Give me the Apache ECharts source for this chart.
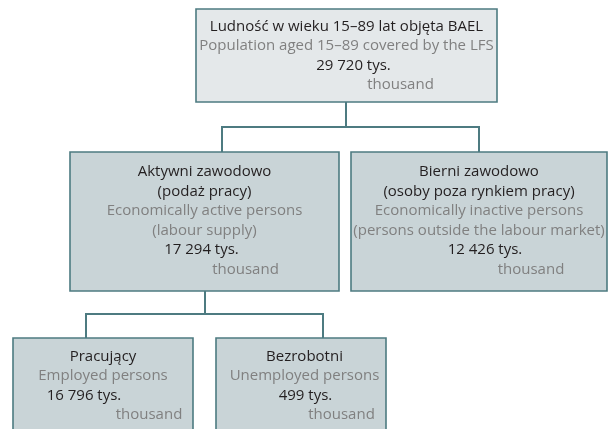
<!DOCTYPE html>
<html>
<head>
<meta charset="utf-8">
<script src="https://cdn.jsdelivr.net/npm/echarts@6/dist/echarts.min.js"></script>
<style>
  html, body { margin: 0; padding: 0; background: #fff; }
  #chart { width: 608px; height: 429px; }
</style>
</head>
<body>
<div id="chart"></div>
<script>
// node labels and values (thousand persons)
const labelsPl = [
  'Ludność w wieku 15–89 lat objęta BAEL',
  'Aktywni zawodowo\n(podaż pracy)',
  'Bierni zawodowo\n(osoby poza rynkiem pracy)',
  'Pracujący',
  'Bezrobotni'
]
const labelsEn = [
  'Population aged 15–89 covered by the LFS',
  'Economically active persons\n(labour supply)',
  'Economically inactive persons\n(persons outside the labour market)',
  'Employed persons',
  'Unemployed persons'
]
const values = [29720, 17294, 12426, 16796, 499]
const parents = [-1, 0, 0, 1, 1]
const unitPl = 'tys.'
const unitEn = 'thousand'

// layout in page pixels: box [x0, y0, x1, y1], text centre x, value/unit shifts
const boxLayout = [
  { box: [196, 9, 497, 102], cx: 346.5, mid: 55.5, valDx: 7, unitDx: 54, fill: '#e4e8ea', inX: 346, outX: 346 },
  { box: [70, 152, 339, 291], cx: 204.5, mid: 220.5, valDx: -3, unitDx: 41, fill: '#c9d4d7', inX: 222, outX: 205 },
  { box: [351, 152, 607, 291], cx: 479, mid: 220.5, valDx: 6, unitDx: 52, fill: '#c9d4d7', inX: 479, outX: 479 },
  { box: [13, 338, 193, 445], cx: 103, mid: 385.5, valDx: -19, unitDx: 46, fill: '#c9d4d7', inX: 86, outX: 86 },
  { box: [216, 338, 386, 445], cx: 304.5, mid: 385.5, valDx: 1, unitDx: 37, fill: '#c9d4d7', inX: 323, outX: 323 }
]
const elbowY = [0, 127, 127, 314, 314]

const lineH = 19.5
const border = '#4d7b81'
const dark = '#231f20'
const grey = '#808080'
const font = '"Open Sans", sans-serif'

function fmt(v) {
  return String(v).replace(/\B(?=(\d{3})+(?!\d))/g, ' ')
}

function nodeLines(i) {
  const out = []
  labelsPl[i].split('\n').forEach(t => out.push({ t, c: dark, dx: 0 }))
  labelsEn[i].split('\n').forEach(t => out.push({ t, c: grey, dx: 0 }))
  out.push({ t: fmt(values[i]) + ' ' + unitPl, c: dark, dx: boxLayout[i].valDx })
  out.push({ t: unitEn, c: grey, dx: boxLayout[i].unitDx })
  return out
}

const chart = echarts.init(document.getElementById('chart'))

chart.setOption({
  animation: false,
  grid: { left: 0, right: 0, top: 0, bottom: 0 },
  xAxis: { type: 'value', min: 0, max: 608, show: false },
  yAxis: { type: 'value', min: 0, max: 429, inverse: true, show: false },
  series: [
    {
      // connectors
      type: 'custom',
      coordinateSystem: 'cartesian2d',
      silent: true,
      data: parents.map((p, i) => [i, p]).filter(d => d[1] >= 0),
      renderItem: (params, api) => {
        const i = api.value(0)
        const p = api.value(1)
        const pb = boxLayout[p].box
        const cb = boxLayout[i].box
        const pts = [
          [boxLayout[p].outX, pb[3]],
          [boxLayout[p].outX, elbowY[i]],
          [boxLayout[i].inX, elbowY[i]],
          [boxLayout[i].inX, cb[1]]
        ].map(q => api.coord(q))
        return {
          type: 'polyline',
          shape: { points: pts },
          style: { stroke: border, lineWidth: 2, fill: null }
        }
      }
    },
    {
      // boxes with text
      type: 'custom',
      coordinateSystem: 'cartesian2d',
      silent: true,
      data: values.map((v, i) => [i, v]),
      renderItem: (params, api) => {
        const i = api.value(0)
        const L = boxLayout[i]
        const p0 = api.coord([L.box[0], L.box[1]])
        const p1 = api.coord([L.box[2], L.box[3]])
        const lines = nodeLines(i)
        const startY = L.mid - (lines.length - 1) * lineH / 2
        const children = [{
          type: 'rect',
          shape: { x: p0[0], y: p0[1], width: p1[0] - p0[0], height: p1[1] - p0[1] },
          style: { fill: L.fill, stroke: border, lineWidth: 1.6 }
        }]
        lines.forEach((ln, k) => {
          const c = api.coord([L.cx + ln.dx, startY + k * lineH])
          children.push({
            type: 'text',
            x: c[0],
            y: c[1],
            style: {
              text: ln.t,
              fill: ln.c,
              font: '15px ' + font,
              align: 'center',
              verticalAlign: 'middle'
            }
          })
        })
        return { type: 'group', children }
      }
    }
  ]
})

window.addEventListener('resize', () => chart.resize())
</script>
</body>
</html>
